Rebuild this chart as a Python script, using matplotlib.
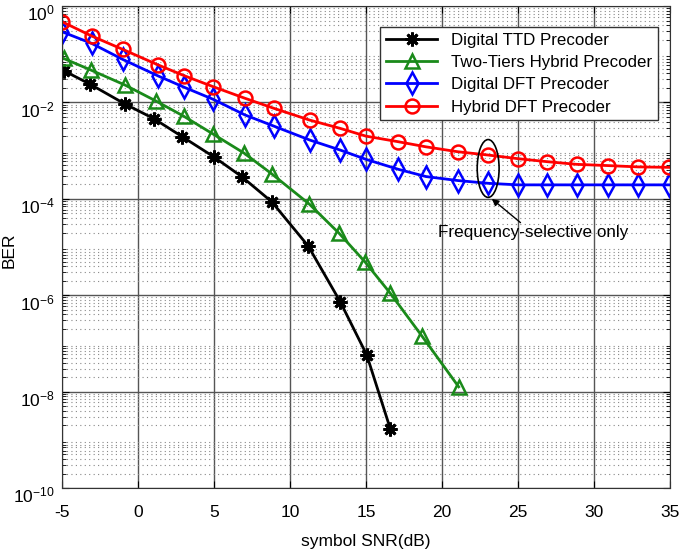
import numpy as np
import matplotlib
matplotlib.use('Agg')
from matplotlib import pyplot as plt
from matplotlib import transforms as mtransforms
from matplotlib.patches import Ellipse

plt.rcParams['font.family'] = ['Liberation Sans', 'DejaVu Sans']
plt.rcParams['axes.unicode_minus'] = False

# values (SNR in dB, BER on log scale)
snr_ttd = [-4.85, -3.16, -0.86, 1.05, 2.91, 5.0, 6.82, 8.8, 11.2, 13.3, 15.05, 16.6]
ber_ttd = [0.045, 0.024, 9.3e-3, 4.6e-3, 1.95e-3, 7.4e-4, 2.9e-4, 8.7e-5,
           1.05e-5, 7.4e-7, 5.8e-8, 1.7e-9]

snr_two = [-4.9, -3.1, -0.86, 1.16, 3.0, 4.95, 7.0, 8.8, 11.27, 13.24,
           14.93, 16.6, 18.7, 21.1]
ber_two = [0.082, 0.047, 0.023, 0.0108, 5.2e-3, 2.2e-3, 8.8e-4, 3.3e-4,
           7.8e-5, 1.92e-5, 4.95e-6, 1.1e-6, 1.4e-7, 1.26e-8]

snr_dft = [-5.0, -3.05, -1.0, 1.34, 3.05, 4.95, 7.04, 8.97, 11.3, 13.3,
           15.0, 17.13, 18.95, 21.03, 23.05, 25.02, 26.93, 28.86, 30.9, 32.9, 34.95]
ber_dig = [0.293, 0.168, 0.078, 0.0353, 0.0206, 0.0116, 5.5e-3, 3.2e-3,
           1.66e-3, 1.03e-3, 6.6e-4, 4.1e-4, 2.9e-4, 2.4e-4, 2.1e-4, 1.95e-4,
           1.95e-4, 1.95e-4, 1.95e-4, 1.95e-4, 1.95e-4]
ber_hyb = [0.473, 0.239, 0.126, 0.0597, 0.0358, 0.0212, 0.0122, 7.5e-3,
           4.3e-3, 2.9e-3, 2.0e-3, 1.53e-3, 1.2e-3, 9.5e-4, 8.1e-4, 6.8e-4,
           5.9e-4, 5.2e-4, 4.9e-4, 4.6e-4, 4.5e-4]

labels = ['Digital TTD Precoder', 'Two-Tiers Hybrid Precoder',
          'Digital DFT Precoder', 'Hybrid DFT Precoder']

fig = plt.figure(figsize=(6.85, 5.49), dpi=100)
ax = fig.add_axes([0.0905, 0.111, 0.8875, 0.878])

lw = 2
ax.semilogy(snr_ttd, ber_ttd, color='k', lw=lw, marker=(8, 2, 0), ms=10,
            mew=2, label=labels[0])
ax.semilogy(snr_two, ber_two, color='#1a8a1a', lw=lw, marker='^', ms=10,
            mew=1.8, mfc='none', label=labels[1])
ax.semilogy(snr_dft, ber_dig, color='#0000ff', lw=lw, marker='d', ms=11,
            mew=1.8, mfc='none', label=labels[2])
ax.semilogy(snr_dft, ber_hyb, color='#ff0000', lw=lw, marker='o', ms=10,
            mew=1.8, mfc='none', label=labels[3])

ax.set_xlim(-5, 35)
ax.set_ylim(1e-10, 1)
ax.set_xticks(np.arange(-5, 36, 5))
ax.set_yticks([1e0, 1e-2, 1e-4, 1e-6, 1e-8, 1e-10])
ax.yaxis.set_minor_locator(matplotlib.ticker.LogLocator(base=10, subs=np.arange(2, 10), numticks=20))
ax.yaxis.set_minor_formatter(matplotlib.ticker.NullFormatter())
ax.tick_params(axis='both', which='major', labelsize=12.5, direction='in', length=5)
ax.tick_params(axis='x', which='major', pad=12)
ax.tick_params(axis='y', which='major', pad=5)
ax.tick_params(axis='y', which='minor', direction='in', length=3)
ax.tick_params(top=True, right=True, which='both')

# MATLAB style: the base "10" sits on the tick, exponent above it
shift = mtransforms.ScaledTranslation(0, -4.5 / 72, fig.dpi_scale_trans)
for lab in ax.get_yticklabels():
    lab.set_transform(lab.get_transform() + shift)

ax.grid(True, which='major', color='#555555', lw=1, ls='-')
ax.grid(True, which='minor', axis='y', color='#888888', lw=0.8, ls=(0, (1, 3)))
ax.set_axisbelow(True)
for s in ax.spines.values():
    s.set_color('#333333')

ax.set_xlabel('symbol SNR(dB)', fontsize=12.5, labelpad=10)
ax.set_ylabel('BER', fontsize=12.5)
ax.yaxis.set_label_coords(-0.075, 0.494)

leg = ax.legend(loc='upper right', bbox_to_anchor=(0.98, 0.956), borderaxespad=0,
                fontsize=12.2, fancybox=False, edgecolor='#333333', framealpha=1,
                handlelength=3.0, borderpad=0.35, labelspacing=0.42)
leg.get_frame().set_linewidth(1)

ell = Ellipse((0.701, 0.663), 0.036, 0.12, transform=ax.transAxes,
              fill=False, ec='k', lw=1.2, zorder=5)
ax.add_patch(ell)
ax.annotate('Frequency-selective only', xy=(0.707, 0.60), xytext=(0.618, 0.52),
            xycoords='axes fraction', textcoords='axes fraction', fontsize=12.3,
            arrowprops=dict(arrowstyle='-|>', color='k', lw=1, shrinkA=0, shrinkB=0,
                            mutation_scale=10),
            zorder=6)

fig.savefig('out.png', dpi=100)
